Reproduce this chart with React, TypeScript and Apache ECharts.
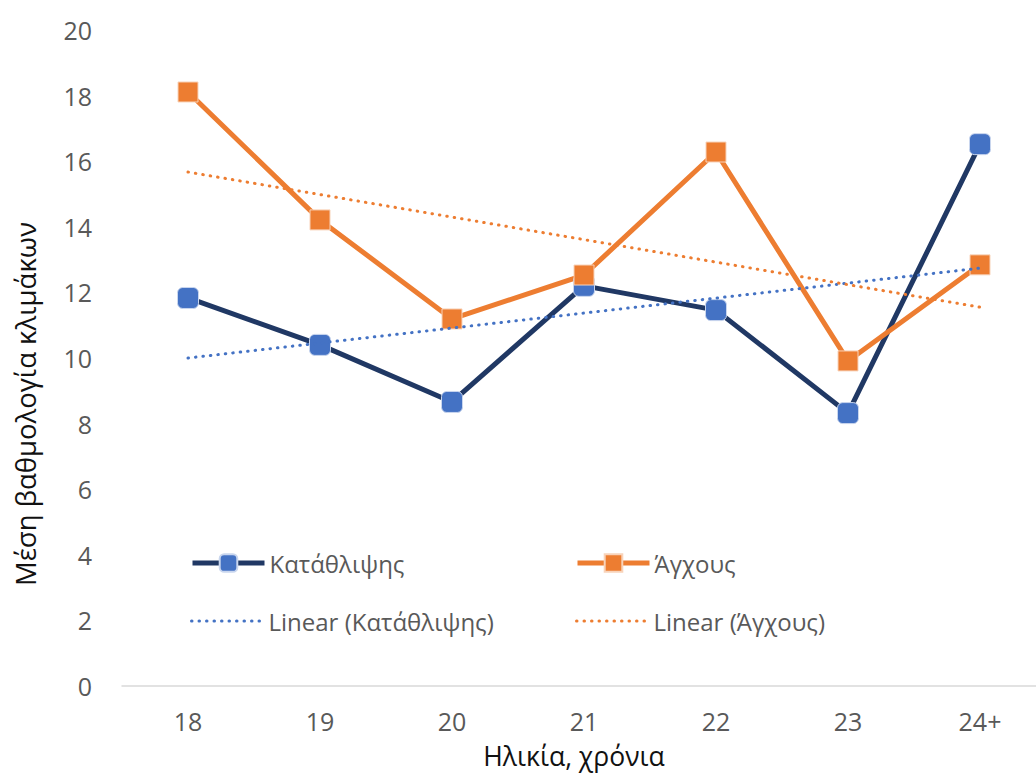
import React, { useEffect, useRef } from "react";
import * as echarts from "echarts";

const categories = ["18", "19", "20", "21", "22", "23", "24+"];
const depression = [11.83, 10.4, 8.66, 12.2, 11.46, 8.32, 16.52];
const anxiety = [18.11, 14.21, 11.19, 12.53, 16.28, 9.91, 12.84];
const depressionTrend = [10.0, null, null, null, null, null, 12.74];
const anxietyTrend = [15.67, null, null, null, null, null, 11.55];
const yTicks = { min: 0, max: 20, interval: 2 };

const FONT = "'Open Sans', 'Noto Sans', sans-serif";

export default function App() {
  const ref = useRef<HTMLDivElement>(null);
  useEffect(() => {
    if (!ref.current) return;
    const chart = echarts.init(ref.current, undefined, { renderer: "svg" });
    const legendText = { fontFamily: FONT, fontSize: 24, color: "#595959" };
    const mkLegend = (name: string, left: number, top: number, trend: boolean) => ({
      data: [name],
      left,
      top,
      itemWidth: 72,
      itemHeight: 22,
      itemGap: 0,
      padding: 0,
      textStyle: legendText,
      selectedMode: false,
      lineStyle: { width: "inherit" },
      itemStyle: trend ? { opacity: 0 } : {},
    });
    chart.setOption({
      animation: false,
      backgroundColor: "#ffffff",
      grid: { left: 122, top: 30, width: 924, height: 656, containLabel: false },
      xAxis: {
        type: "category",
        data: categories,
        boundaryGap: true,
        axisLine: { lineStyle: { color: "#d9d9d9", width: 1.5 } },
        axisTick: { show: false },
        axisLabel: { fontFamily: FONT, fontSize: 25, color: "#595959", margin: 22, lineHeight: 26 },
        splitLine: { show: false },
      },
      yAxis: {
        type: "value",
        min: yTicks.min,
        max: yTicks.max,
        interval: yTicks.interval,
        axisLine: { show: false },
        axisTick: { show: false },
        splitLine: { show: false },
        axisLabel: { fontFamily: FONT, fontSize: 25, color: "#595959", margin: 30 },
      },
      legend: [
        mkLegend("Κατάθλιψης", 190, 551, false),
        mkLegend("Άγχους", 575, 551, false),
        mkLegend("Linear (Κατάθλιψης)", 190, 609, true),
        mkLegend("Linear (Άγχους)", 575, 609, true),
      ],
      graphic: [
        {
          type: "text",
          x: 25,
          y: 404,
          rotation: Math.PI / 2,
          style: {
            text: "Μέση βαθμολογία κλιμάκων",
            fontFamily: FONT,
            fontSize: 27.5,
            fill: "#111111",
            align: "center",
            verticalAlign: "middle",
          },
        },
        {
          type: "text",
          x: 574,
          y: 756,
          style: {
            text: "Ηλικία, χρόνια",
            fontFamily: FONT,
            fontSize: 26.5,
            lineHeight: 27,
            fill: "#111111",
            align: "center",
            verticalAlign: "middle",
          },
        },
      ],
      series: [
        {
          name: "Κατάθλιψης",
          type: "line",
          data: depression,
          symbol: "roundRect",
          symbolSize: 21,
          lineStyle: { color: "#203864", width: 5 },
          itemStyle: { color: "#4472C4", borderColor: "#c9d6ee", borderWidth: 1 },
          z: 2,
        },
        {
          name: "Άγχους",
          type: "line",
          data: anxiety,
          symbol: "rect",
          symbolSize: 20,
          lineStyle: { color: "#ED7D31", width: 5 },
          itemStyle: { color: "#ED7D31", borderColor: "#f8d3ba", borderWidth: 1 },
          z: 2,
        },
        {
          name: "Linear (Κατάθλιψης)",
          type: "line",
          data: depressionTrend,
          connectNulls: true,
          symbol: "none",
          lineStyle: { color: "#4472C4", width: 3, type: [0.5, 7], cap: "round" },
          itemStyle: { color: "#4472C4" },
          z: 3,
        },
        {
          name: "Linear (Άγχους)",
          type: "line",
          data: anxietyTrend,
          connectNulls: true,
          symbol: "none",
          lineStyle: { color: "#ED7D31", width: 3, type: [0.5, 7], cap: "round" },
          itemStyle: { color: "#ED7D31" },
          z: 3,
        },
      ],
    });
    return () => chart.dispose();
  }, []);
  return (
    <div
      style={{
        position: "fixed",
        left: 0,
        top: 0,
        width: 1036,
        height: 773,
        overflow: "hidden",
        background: "#ffffff",
      }}
    >
      <div ref={ref} style={{ width: 1060, height: 773 }} />
    </div>
  );
}
